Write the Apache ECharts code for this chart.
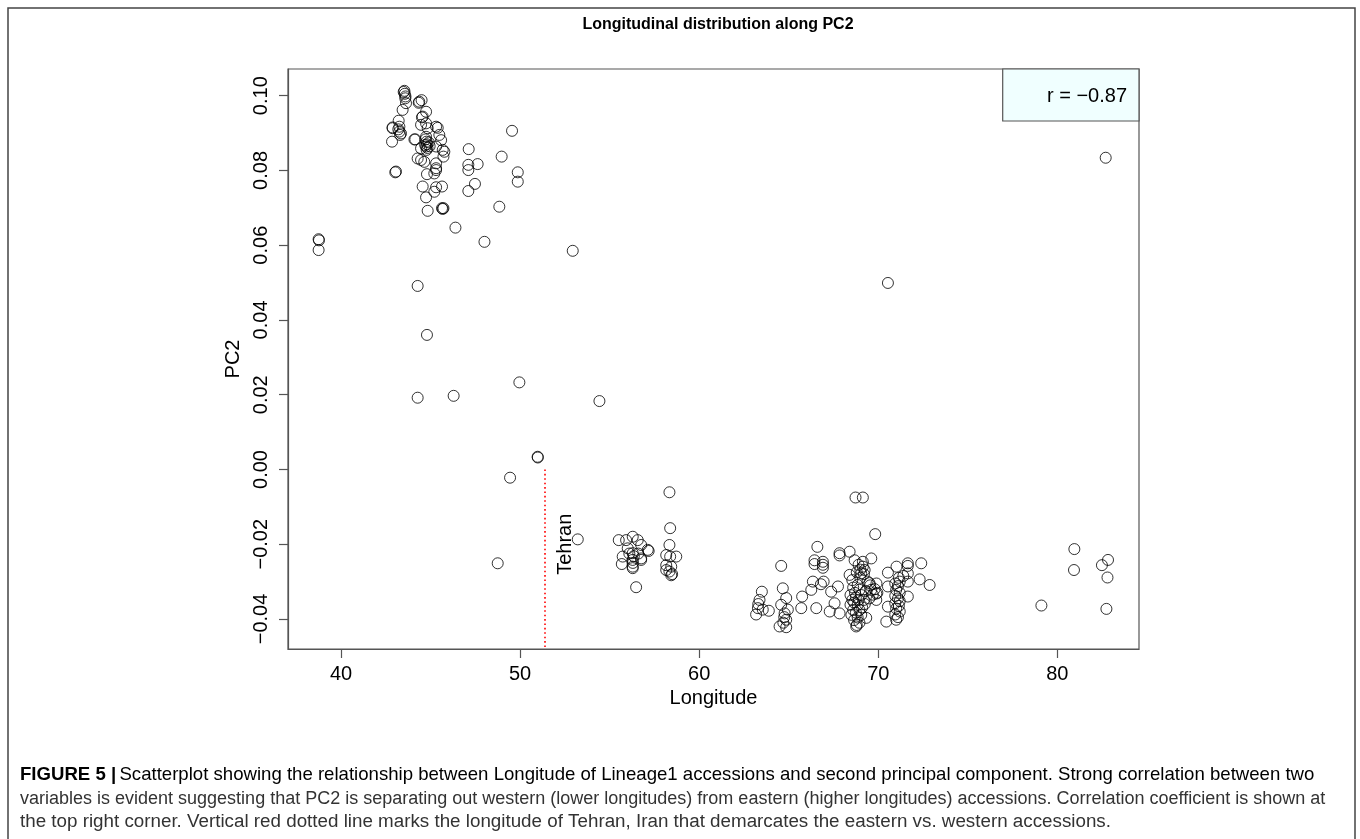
<!DOCTYPE html>
<html><head><meta charset="utf-8">
<script src="https://cdn.jsdelivr.net/npm/echarts@6/dist/echarts.min.js"></script>
<style>html,body{margin:0;padding:0;background:#fff}#c{width:1360px;height:839px}</style>
</head><body><div id="c"></div>
<script>
// ---- tick values / labels ----
const xTicks = [40, 50, 60, 70, 80];
const yTicks = [-0.04, -0.02, 0, 0.02, 0.04, 0.06, 0.08, 0.10];
const yTickLabels = ['\u22120.04', '\u22120.02', '0.00', '0.02', '0.04', '0.06', '0.08', '0.10'];

// ---- data: [Longitude, PC2] ----
const westPoints = [
  [38.75,0.0616],[38.77,0.0613],[38.75,0.0587],
  [43.54,0.1013],[43.50,0.1010],[43.56,0.1005],[43.59,0.0993],[43.63,0.0980],[43.44,0.0962],[43.60,0.0998],
  [44.34,0.0981],[44.50,0.0988],[44.37,0.0984],[44.75,0.0957],[44.52,0.0942],[44.56,0.0944],[44.47,0.0922],
  [43.22,0.0933],[42.88,0.0915],[43.26,0.0917],[43.26,0.0904],[43.30,0.0895],[43.20,0.0910],[42.85,0.0877],[43.35,0.0899],[42.88,0.0913],
  [44.75,0.0926],[44.84,0.0913],[45.40,0.0914],[45.31,0.0917],[45.49,0.0895],[44.75,0.0890],[44.78,0.0877],[44.75,0.0864],[44.78,0.0855],[44.80,0.0870],[44.72,0.0883],[44.83,0.0860],[44.90,0.0875],[44.95,0.0865],[44.70,0.0868],
  [44.15,0.0883],[44.10,0.0883],[45.59,0.0881],[45.68,0.0855],[45.77,0.0850],[45.31,0.0864],[44.47,0.0859],[45.72,0.0837],[44.28,0.0832],[44.47,0.0828],[44.65,0.0823],[45.31,0.0819],[45.31,0.0806],[45.31,0.0801],[45.21,0.0792],[44.80,0.0790],[43.03,0.0795],[43.07,0.0797],
  [44.56,0.0757],[45.31,0.0755],[45.64,0.0757],[45.21,0.0743],[44.75,0.0728],[44.84,0.0692],[45.64,0.0699],[45.72,0.0699],[45.68,0.0697],
  [46.39,0.0647],[48.01,0.0609],
  [47.13,0.0857],[47.11,0.0815],[47.63,0.0817],[47.11,0.0801],[47.48,0.0764],[47.11,0.0745],[48.84,0.0703],[48.97,0.0837],[49.55,0.0906],[49.87,0.0795],[49.87,0.0770],[52.94,0.0585]
];
const middlePoints = [
  [44.28,0.0491],[44.80,0.0360],[49.96,0.0233],[44.28,0.0192],[46.29,0.0197],[54.43,0.0183],
  [50.98,0.0034],[50.99,0.0032],[49.44,-0.0022],[48.75,-0.0251],[53.22,-0.0187],[70.54,0.0499],[82.70,0.0834]
];
const iranEastPoints = [
  [55.51,-0.0189],[55.92,-0.0189],[56.29,-0.0180],[56.57,-0.0189],[56.01,-0.0211],[55.73,-0.0233],[55.68,-0.0253],
  [56.29,-0.0224],[56.29,-0.0242],[56.29,-0.0260],[56.29,-0.0264],[56.76,-0.0202],[57.13,-0.0215],[57.18,-0.0218],
  [56.76,-0.0242],[56.76,-0.0238],[56.48,-0.0315],[56.30,-0.0250],[56.35,-0.0232],[56.10,-0.0225],[56.60,-0.0225],
  [58.34,-0.0061],[58.38,-0.0157],[58.34,-0.0202],[58.16,-0.0229],[58.72,-0.0233],[58.38,-0.0233],[58.16,-0.0256],
  [58.44,-0.0260],[58.16,-0.0269],[58.49,-0.0280],[58.34,-0.0273],[58.44,-0.0283]
];
const centralAsiaPoints = [
  [63.50,-0.0327],[63.37,-0.0349],[63.28,-0.0371],[63.18,-0.0388],[63.55,-0.0375],[63.89,-0.0378],[63.30,-0.0360],
  [64.58,-0.0258],[64.67,-0.0318],[64.86,-0.0344],[64.58,-0.0362],[64.77,-0.0385],[64.86,-0.0402],[64.49,-0.0420],
  [64.86,-0.0422],[64.70,-0.0410],[64.95,-0.0375],[64.75,-0.0395],
  [65.75,-0.0340],[65.70,-0.0371],[66.26,-0.0322],[66.35,-0.0300],[66.54,-0.0371],[66.60,-0.0207],[66.44,-0.0243],[66.44,-0.0253],
  [66.91,-0.0247],[66.91,-0.0255],[66.91,-0.0263],[66.95,-0.0300],[66.80,-0.0307],
  [67.84,-0.0224],[67.84,-0.0230],[68.40,-0.0220],[69.61,-0.0238],[68.68,-0.0243],[68.40,-0.0282],[67.75,-0.0313],
  [67.37,-0.0327],[67.56,-0.0358],[67.29,-0.0380],[67.84,-0.0385],
  [68.55,-0.0296],[68.85,-0.0309],[68.60,-0.0316],[68.95,-0.0322],[68.70,-0.0330],[68.45,-0.0336],[69.05,-0.0336],
  [68.75,-0.0342],[68.55,-0.0349],[68.90,-0.0349],[69.20,-0.0349],[68.65,-0.0356],[68.45,-0.0362],[68.85,-0.0362],
  [69.10,-0.0369],[68.60,-0.0376],[68.95,-0.0376],[68.75,-0.0383],[68.50,-0.0389],[69.05,-0.0389],[68.85,-0.0396],
  [69.33,-0.0397],[68.65,-0.0403],[68.95,-0.0410],[68.77,-0.0420],[68.80,-0.0416],
  [68.73,-0.0075],[69.14,-0.0075],[69.83,-0.0173],[68.90,-0.0255],[69.00,-0.0268],[68.80,-0.0275],[69.20,-0.0280],
  [69.00,-0.0290],[69.40,-0.0300],[69.55,-0.0310],[69.90,-0.0305],[69.80,-0.0320],[69.70,-0.0335],[69.50,-0.0345],
  [69.95,-0.0330],[69.30,-0.0325],[69.25,-0.0360],[69.14,-0.0247],[69.14,-0.0260],[69.24,-0.0269],[69.05,-0.0278],
  [69.89,-0.0332],[69.89,-0.0349],[69.61,-0.0322],[69.51,-0.0304],
  [70.54,-0.0367],[70.45,-0.0407],[70.54,-0.0313],[70.54,-0.0276],
  [70.95,-0.0305],[71.10,-0.0312],[71.00,-0.0322],[71.20,-0.0330],[70.95,-0.0338],[71.10,-0.0345],[71.20,-0.0352],
  [70.95,-0.0358],[71.15,-0.0365],[71.00,-0.0372],[71.20,-0.0380],[70.95,-0.0388],[71.10,-0.0395],[71.00,-0.0402],
  [71.20,-0.0300],[71.15,-0.0290],
  [71.65,-0.0251],[71.65,-0.0258],[72.40,-0.0251],[71.02,-0.0260],[71.65,-0.0278],[72.31,-0.0294],[72.87,-0.0309],
  [71.65,-0.0300],[71.65,-0.0340],[71.40,-0.0285]
];
const farEastPoints = [
  [80.95,-0.0213],[80.93,-0.0269],[79.11,-0.0364],[82.49,-0.0256],[82.83,-0.0242],[82.80,-0.0289],[82.74,-0.0373]
];

const tehranLon = 51.4;
const tehranLabelAt = [52.53, -0.020];
const rText = 'r = \u22120.87';
const chartTitle = 'Longitudinal distribution along PC2';
const captionLines = [
  'Scatterplot showing the relationship between Longitude of Lineage1 accessions and second principal component. Strong correlation between two',
  'variables is evident suggesting that PC2 is separating out western (lower longitudes) from eastern (higher longitudes) accessions. Correlation coefficient is shown at',
  'the top right corner. Vertical red dotted line marks the longitude of Tehran, Iran that demarcates the eastern vs. western accessions.'
];

const FONT = '"Liberation Sans", Arial, Helvetica, sans-serif';
const allPoints = [].concat(westPoints, middlePoints, iranEastPoints, centralAsiaPoints, farEastPoints);

const chart = echarts.init(document.getElementById('c'), null, {renderer: 'canvas'});
const axisColor = '#555';
chart.setOption({
  animation: false,
  backgroundColor: '#fff',
  textStyle: {fontFamily: FONT},
  title: {
    text: chartTitle, left: 713, top: 12, textAlign: 'center',
    textStyle: {fontFamily: FONT, fontSize: 16, fontWeight: 'bold', color: '#000'}
  },
  grid: {left: 288, top: 69, right: 221, bottom: 190, show: true, borderColor: axisColor, borderWidth: 1.2, backgroundColor: 'transparent'},
  xAxis: {
    type: 'value', min: 37.04, max: 84.56,
    name: 'Longitude', nameLocation: 'middle', nameGap: 34,
    nameTextStyle: {fontFamily: FONT, fontSize: 20, color: '#000'},
    axisLine: {show: true, onZero: false, lineStyle: {color: axisColor, width: 1.2}},
    axisTick: {show: true, inside: false, length: 9, customValues: xTicks, lineStyle: {color: axisColor, width: 1.2}},
    axisLabel: {customValues: xTicks, fontSize: 20, color: '#000', margin: 15, fontFamily: FONT},
    splitLine: {show: false}
  },
  yAxis: {
    type: 'value', min: -0.04803, max: 0.10714,
    name: 'PC2', nameLocation: 'middle', nameGap: 38,
    nameTextStyle: {fontFamily: FONT, fontSize: 20, color: '#000'},
    axisLine: {show: true, onZero: false, lineStyle: {color: axisColor, width: 1.2}},
    axisTick: {show: true, inside: false, length: 9, customValues: yTicks, lineStyle: {color: axisColor, width: 1.2}},
    axisLabel: {
      customValues: yTicks, rotate: 90, fontSize: 20, color: '#000', margin: 17, fontFamily: FONT,
      formatter: function (v) {
        let i = yTicks.findIndex(t => Math.abs(t - v) < 1e-9);
        return i >= 0 ? yTickLabels[i] : '';
      }
    },
    splitLine: {show: false}
  },
  series: [
    {
      type: 'scatter', data: allPoints, symbol: 'circle', symbolSize: 11,
      itemStyle: {color: 'rgba(0,0,0,0)', borderColor: '#000', borderWidth: 1},
      silent: true,
      markLine: {
        silent: true, symbol: ['none', 'none'], label: {show: false},
        lineStyle: {color: '#ff0000', type: [1.6, 2.8], width: 1.6, cap: 'butt'},
        data: [[{coord: [tehranLon, 0]}, {coord: [tehranLon, -0.048]}]]
      },
      markPoint: {
        silent: true,
        data: [{
          coord: tehranLabelAt, symbol: 'circle', symbolSize: 1,
          itemStyle: {color: 'rgba(0,0,0,0)'},
          label: {show: true, formatter: 'Tehran', rotate: 90, position: 'inside', fontSize: 20, color: '#000', fontFamily: FONT}
        }]
      }
    }
  ],
  graphic: [
    {type: 'rect', shape: {x: 8, y: 8, width: 1347, height: 840}, style: {fill: 'none', stroke: '#444', lineWidth: 1.5}, silent: true},
    {type: 'rect', shape: {x: 1002.7, y: 69, width: 136.3, height: 52}, style: {fill: '#f0ffff', stroke: axisColor, lineWidth: 1.2}, z: 10, silent: true},
    {type: 'text', x: 1127, y: 96, z: 11, style: {text: rText, font: '20px ' + FONT, fill: '#000', textAlign: 'right', textVerticalAlign: 'middle'}},
    {type: 'text', x: 20, y: 775, style: {
      text: '{b|FIGURE 5 |} {n|' + captionLines[0] + '}',
      textVerticalAlign: 'middle',
      rich: {b: {fontFamily: FONT, fontSize: 18.6, fontWeight: 'bold', color: '#231f20'}, n: {fontFamily: FONT, fontSize: 18.6, color: '#333'}}
    }},
    {type: 'text', x: 20, y: 799, style: {text: captionLines[1], font: '18px ' + FONT, fill: '#333', textVerticalAlign: 'middle'}},
    {type: 'text', x: 20, y: 822, style: {text: captionLines[2], font: '18.8px ' + FONT, fill: '#333', textVerticalAlign: 'middle'}}
  ]
});
</script></body></html>
